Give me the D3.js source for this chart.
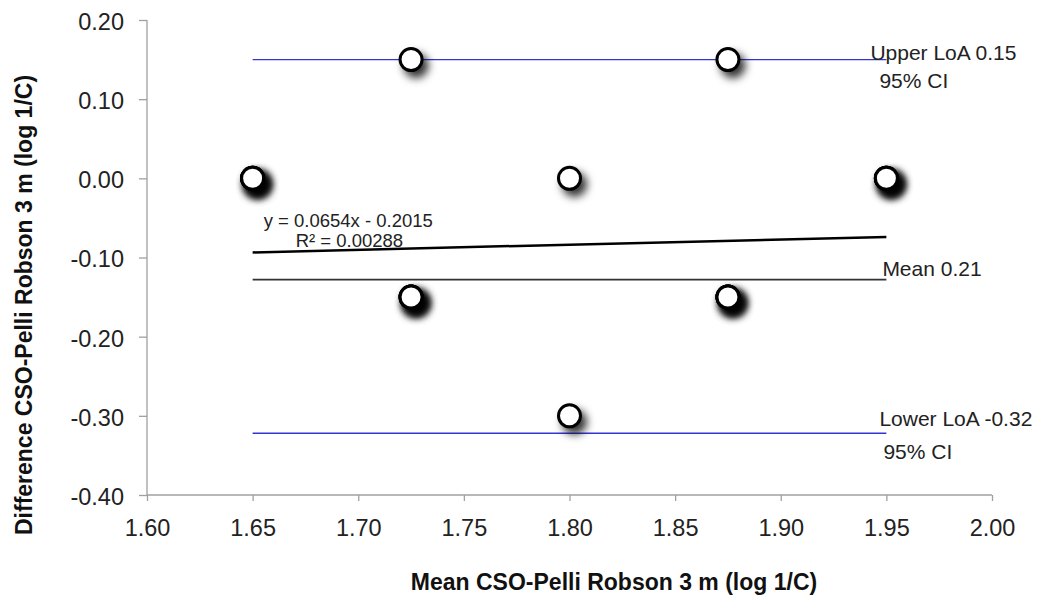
<!DOCTYPE html>
<html>
<head>
<meta charset="utf-8">
<script src="https://cdn.jsdelivr.net/npm/d3@7"></script>
<style>
  html, body { margin: 0; padding: 0; background: #fff; }
  svg { display: block; font-family: "Liberation Sans", Arial, sans-serif; }
</style>
</head>
<body>
<svg id="chart" width="1038" height="600"></svg>
<script>
// ---- data ----
const pointMeans = [1.65, 1.725, 1.875, 1.80, 1.95, 1.725, 1.875, 1.80];
const pointDiffs = [0.00, 0.15, 0.15, 0.00, 0.00, -0.15, -0.15, -0.30];
const pointCounts = [4, 1, 1, 1, 4, 4, 4, 1];
const xTicks = [1.60, 1.65, 1.70, 1.75, 1.80, 1.85, 1.90, 1.95, 2.00];
const yTicks = [0.20, 0.10, 0.00, -0.10, -0.20, -0.30, -0.40];
const lineStart = 1.65;
const lineEnd = 1.95;
const upperLoA = 0.15;
const meanDiff = -0.128;
const lowerLoA = -0.322;
const trendSlope = 0.0654;
const trendIntercept = -0.2015;
const xTitle = "Mean CSO-Pelli Robson 3 m (log 1/C)";
const yTitle = "Difference CSO-Pelli Robson 3 m (log 1/C)";

const svg = d3.select("#chart");
const x = d3.scaleLinear().domain([1.60, 2.00]).range([147, 992]);
const y = d3.scaleLinear().domain([-0.40, 0.20]).range([495, 20]);
const fmt = d => d3.format(".2f")(d).replace("\u2212", "-");

// shadow filter
const defs = svg.append("defs");
const f = defs.append("filter").attr("id", "shadow")
  .attr("x", "-80%").attr("y", "-80%").attr("width", "260%").attr("height", "260%");
f.append("feDropShadow").attr("dx", 5).attr("dy", 6).attr("stdDeviation", 4)
  .attr("flood-color", "#000").attr("flood-opacity", 0.8);

// axes
const axisColor = "#a0a0a0";
const yAxis = svg.append("g").attr("transform", `translate(${x(1.60)},0)`)
  .call(d3.axisLeft(y).tickValues(yTicks).tickFormat(fmt).tickSize(8).tickPadding(15));
const xAxis = svg.append("g").attr("transform", `translate(0,${y(-0.40)})`)
  .call(d3.axisBottom(x).tickValues(xTicks).tickFormat(fmt).tickSize(6).tickPadding(18));
[yAxis, xAxis].forEach(a => {
  a.select(".domain").attr("stroke", axisColor).attr("stroke-width", 1.3);
  a.selectAll(".tick line").attr("stroke", axisColor).attr("stroke-width", 1.3);
  a.selectAll(".tick text").attr("fill", "#222").style("font-size", "23.5px")
    .style("font-family", "'Liberation Sans', Arial, sans-serif");
});
yAxis.select(".domain").attr("d", `M0,${y(0.20)}V${y(-0.40)}`);
xAxis.select(".domain").attr("d", `M${x(1.60)},0H${x(2.00)}`);
yAxis.selectAll(".tick text").attr("dy", "0.40em");

// reference lines
const hline = (v, color, w) => svg.append("line")
  .attr("x1", x(lineStart)).attr("x2", x(lineEnd))
  .attr("y1", y(v)).attr("y2", y(v))
  .attr("stroke", color).attr("stroke-width", w);
hline(upperLoA, "#3535d5", 1.4);
hline(lowerLoA, "#3535d5", 1.4);
hline(meanDiff, "#333", 1.6);

// trend line
svg.append("line")
  .attr("x1", x(lineStart)).attr("y1", y(trendSlope * lineStart + trendIntercept))
  .attr("x2", x(lineEnd)).attr("y2", y(trendSlope * lineEnd + trendIntercept))
  .attr("stroke", "#000").attr("stroke-width", 2.5);

// points (stacked duplicates darken the shadow)
const pts = [];
pointMeans.forEach((m, i) => { for (let k = 0; k < pointCounts[i]; k++) pts.push({ m, d: pointDiffs[i] }); });
svg.append("g").selectAll("circle").data(pts).join("circle")
  .attr("cx", d => x(d.m)).attr("cy", d => y(d.d)).attr("r", 11)
  .attr("fill", "#fff").attr("stroke", "#000").attr("stroke-width", 3)
  .attr("filter", "url(#shadow)");

// annotations
const ann = (txt, px, py, size) => svg.append("text")
  .attr("x", px).attr("y", py).attr("fill", "#222")
  .style("font-size", size + "px").text(txt);
ann("Upper LoA 0.15", x(lineEnd) - 16, y(upperLoA) + 0.5, 21);
ann("95% CI", x(lineEnd) - 7, y(upperLoA) + 28, 21);
ann("Mean 0.21", x(lineEnd) - 4, y(meanDiff) - 4, 21);
ann("Lower LoA -0.32", x(lineEnd) - 7, y(lowerLoA) - 7, 21);
ann("95% CI", x(lineEnd) - 3, y(lowerLoA) + 26, 21);
ann("y = 0.0654x - 0.2015", x(lineStart) + 11, 227, 18.5);
ann("R² = 0.00288", x(lineStart) + 43, 247, 18.5);

// axis titles
svg.append("text").attr("x", 614).attr("y", 590).attr("text-anchor", "middle")
  .style("font-size", "23px").style("font-weight", "bold").attr("fill", "#111").text(xTitle);
svg.append("text").attr("transform", "translate(32,305) rotate(-90)").attr("text-anchor", "middle")
  .style("font-size", "23px").style("font-weight", "bold").attr("fill", "#111").text(yTitle);
</script>
</body>
</html>
